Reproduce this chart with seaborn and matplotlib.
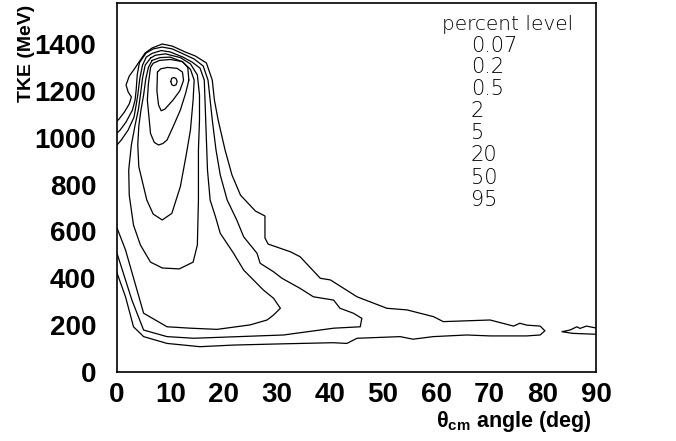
import numpy as np
import pandas as pd
import matplotlib
matplotlib.use("Agg")
import matplotlib.pyplot as plt
import seaborn as sns
from matplotlib.ticker import MultipleLocator

# ---- contour lines (theta_cm in deg, TKE in MeV) ----
# 0.07 % level (outermost, with long tail)
c1_x = [0.0, 1.6, 3.1, 5.0, 9.4, 15.6, 21.9, 30.7, 40.6, 43.2, 45.1, 53.2, 55.6, 59.4, 65.7, 70.1, 77.0, 79.5, 80.4,
        79.5, 77.0, 75.7, 74.5, 70.1, 61.3, 59.5, 54.5, 50.7, 45.1, 40.1, 38.2, 34.4, 32.6, 28.4, 27.8, 27.8, 26.0,
        23.2, 21.6, 20.3, 19.0, 18.3, 17.9, 16.8, 14.7, 12.8, 10.4, 8.5, 6.6, 5.3, 4.4, 3.4, 2.3, 1.7, 2.1, 2.7, 2.3,
        1.4, 0.4, 0.0]
c1_y = [423, 321, 193, 151, 122, 108, 115, 120, 125, 122, 144, 151, 140, 151, 158, 154, 154, 158, 176,
        196, 200, 208, 196, 222, 215, 236, 265, 272, 321, 393, 400, 492, 513, 546, 572, 666, 687,
        755, 841, 948, 1076, 1161, 1246, 1319, 1349, 1366, 1391, 1400, 1383, 1362, 1332, 1298, 1263, 1225, 1195, 1174, 1144,
        1110, 1080, 1071]
# 0.07 % level, small island at the right edge
isl_x = [90.0, 89.5, 88.2, 87.0, 86.4, 85.1, 83.6, 85.6, 90.0]
isl_y = [188, 190, 196, 186, 193, 179, 172, 165, 161]
# 0.2 % level
c2_x = [0.0, 2.8, 5.0, 9.4, 14.4, 31.3, 40.7, 45.7, 46.0, 44.4, 41.9, 40.7, 36.9, 34.4, 31.0, 29.4, 26.9, 26.3,
        23.8, 22.5, 20.7, 19.4, 18.6, 17.9, 17.5, 17.1, 16.2, 14.5, 12.5, 10.4, 8.5, 6.8, 5.5, 4.8, 4.2, 3.8, 3.6,
        3.4, 2.9, 1.7, 0.6, 0.0]
c2_y = [507, 307, 179, 151, 144, 158, 187, 193, 229, 251, 272, 307, 321, 357, 400, 428, 464, 507,
        577, 649, 734, 841, 948, 1076, 1161, 1246, 1306, 1336, 1357, 1379, 1387, 1379, 1362, 1340, 1319, 1268, 1204,
        1161, 1118, 1067, 1033, 1020]
# 0.5 % level
c3_x = [0.0, 1.6, 5.0, 9.4, 13.8, 18.8, 25.0, 28.2, 29.4, 30.7, 29.4, 27.5, 23.8, 21.9, 19.4, 18.5, 17.5, 17.0,
        16.8, 16.6, 16.4, 15.6, 14.1, 12.3, 10.0, 8.3, 6.6, 5.5, 4.8, 4.3, 3.9, 3.6, 3.2, 2.1, 0.8, 0.0]
c3_y = [615, 521, 251, 193, 187, 182, 201, 222, 243, 272, 315, 350, 435, 507, 592, 663, 734, 862,
        990, 1118, 1246, 1297, 1323, 1345, 1366, 1372, 1360, 1344, 1310, 1255, 1182, 1140, 1088, 1033, 990, 969]
# 2 % level
c4_x = [6.3, 5.3, 4.8, 4.4, 4.0, 3.4, 2.7, 2.2, 2.3, 3.1, 4.4, 6.3, 8.5, 11.7, 14.3, 15.1, 15.3, 15.3, 15.5,
        15.5, 15.1, 13.8, 11.9, 9.1, 7.2, 6.3]
c4_y = [1340, 1310, 1255, 1182, 1118, 1054, 969, 862, 755, 627, 542, 469, 444, 440, 469, 542, 734, 948, 1076,
        1182, 1268, 1315, 1342, 1358, 1352, 1340]
# 5 % level
c5_x = [6.6, 5.9, 5.4, 5.0, 4.5, 4.1, 3.9, 4.1, 5.6, 6.8, 8.5, 10.3, 11.9, 13.0, 13.8, 14.3, 14.5, 13.8, 12.3,
        10.0, 8.1, 6.6]
c5_y = [1330, 1300, 1250, 1182, 1118, 1050, 970, 876, 734, 674, 649, 677, 791, 926, 1033, 1161, 1246, 1292, 1324,
        1344, 1342, 1330]
# 20 % level
c6_x = [13.5, 13.3, 12.3, 10.0, 8.0, 6.8, 6.3, 5.9, 5.7, 6.3, 7.0, 7.8, 8.6, 9.4, 10.6, 11.9, 12.9, 13.5]
c6_y = [1246, 1300, 1325, 1334, 1330, 1318, 1300, 1230, 1161, 1018, 980, 969, 975, 990, 1050, 1118, 1190, 1246]
# 50 % level
c7_x = [7.6, 7.5, 7.8, 8.3, 9.0, 10.5, 11.8, 12.5, 12.3, 11.3, 9.5, 8.2, 7.6]
c7_y = [1280, 1200, 1140, 1115, 1122, 1160, 1200, 1245, 1280, 1296, 1300, 1294, 1280]
# 95 % level
c8_x = [10.1, 10.3, 10.7, 11.1, 11.3, 11.1, 10.7, 10.3, 10.1]
c8_y = [1240, 1254, 1257, 1252, 1240, 1226, 1222, 1226, 1240]

level_labels = ["0.07", "0.2", "0.5", "2", "5", "20", "50", "95"]
x_ticks = [0, 10, 20, 30, 40, 50, 60, 70, 80, 90]
y_ticks = [0, 200, 400, 600, 800, 1000, 1200, 1400]

segments = [(c1_x, c1_y), (isl_x, isl_y), (c2_x, c2_y), (c3_x, c3_y), (c4_x, c4_y),
            (c5_x, c5_y), (c6_x, c6_y), (c7_x, c7_y), (c8_x, c8_y)]
rows = []
for sid, (xs, ys) in enumerate(segments):
    for order, (xv, yv) in enumerate(zip(xs, ys)):
        rows.append({"seg": sid, "order": order, "theta": xv, "tke": yv})
df = pd.DataFrame(rows)

sns.set_theme(style="white")
plt.rcParams["font.family"] = ["Liberation Sans", "DejaVu Sans"]
plt.rcParams["font.weight"] = "bold"
plt.rcParams["text.color"] = "black"
plt.rcParams["axes.labelcolor"] = "black"
plt.rcParams["xtick.color"] = "black"
plt.rcParams["ytick.color"] = "black"
plt.rcParams["mathtext.fontset"] = "custom"
plt.rcParams["mathtext.rm"] = "Liberation Sans"
plt.rcParams["mathtext.bf"] = "Liberation Sans:bold"
plt.rcParams["mathtext.it"] = "Liberation Sans"

fig = plt.figure(figsize=(6.76, 4.41), dpi=100)
ax = fig.add_axes([117 / 676, 69 / 441, 479 / 676, 369 / 441])

sns.lineplot(data=df, x="theta", y="tke", units="seg", estimator=None, sort=False,
             color="black", linewidth=0.9, ax=ax, legend=False)

ax.set_xlim(0, 90)
ax.set_ylim(0, 1575)
ax.set_xticks(x_ticks)
ax.set_yticks(y_ticks)
ax.set_xticklabels([str(v) for v in x_ticks])
ax.set_yticklabels([str(v) for v in y_ticks])
ax.xaxis.set_minor_locator(MultipleLocator(2))
ax.yaxis.set_minor_locator(MultipleLocator(50))
ax.tick_params(which="both", direction="in", top=False, right=False, color="black", width=1.0)
ax.tick_params(which="major", length=11)
ax.tick_params(which="minor", length=5.5)
ax.tick_params(axis="x", which="major", labelsize=20, pad=7)
ax.tick_params(axis="y", which="major", labelsize=20, pad=15)
for lab in ax.get_xticklabels() + ax.get_yticklabels():
    lab.set_fontweight("bold")
for sp in ax.spines.values():
    sp.set_visible(True)
    sp.set_color("black")
    sp.set_linewidth(1.2)

ax.set_xlabel(r"$\mathrm{\theta}_{\mathbf{cm}}$ angle (deg)", fontsize=15.5, fontweight="bold", loc="right")
ax.xaxis.set_label_coords(0.99, -0.1)
ax.set_ylabel("TKE (MeV)", fontsize=14, fontweight="bold", loc="top")
ax.yaxis.set_label_coords(-0.172, 0.995)

light = ["DejaVu Sans"]
fig.text(442 / 676, 1 - 25 / 441, "percent level", fontsize=14.5, fontweight="light",
         family=light, va="center", ha="left", color="black")
ycent = [46, 67, 89, 111, 133, 155, 178, 200]
for lab, yc in zip(level_labels, ycent):
    fig.text(471 / 676, 1 - yc / 441, lab, fontsize=15, fontweight="light", family=light,
             va="center", ha="left", color="black")

fig.savefig("out.png", dpi=100)
